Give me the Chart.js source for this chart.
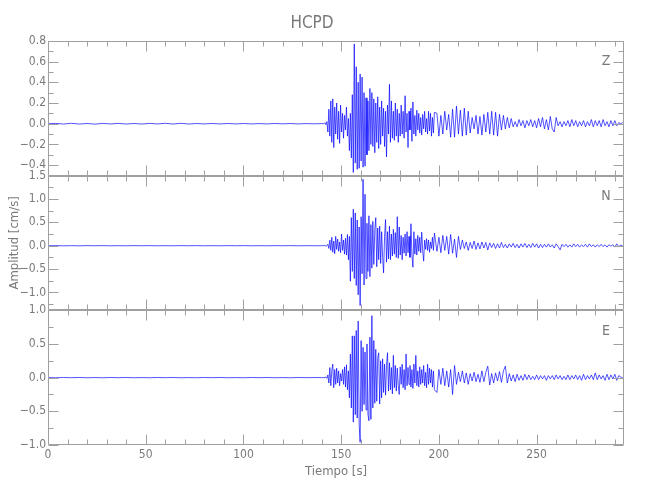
<!DOCTYPE html>
<html>
<head>
<meta charset="utf-8">
<script src="https://cdn.jsdelivr.net/npm/chart.js@4.4.1/dist/chart.umd.min.js"></script>
<style>
  html, body { margin: 0; padding: 0; background: #fff; }
  #sismo { display: block; }
</style>
</head>
<body>
<canvas id="sismo" width="650" height="500"></canvas>
<script>
// muestreo: tramo quieto, tramo fuerte y coda
const quietStep = 4;
const strongStart = 141.2;
const strongStep = 0.5;
const codaStart = 199;
const codaStep = 1;

const xTickLabels = [0, 50, 100, 150, 200, 250];
const components = ["Z", "N", "E"];

const zQuiet = [0.000, 0.003, -0.003, 0.004, -0.003, 0.002, -0.004, 0.003, -0.002, 0.003,
  -0.003, 0.002, -0.003, 0.003, -0.002, 0.004, -0.003, 0.004, -0.003, 0.002,
  -0.002, 0.002, -0.002, 0.002, -0.002, 0.002, -0.002, 0.001, -0.002, 0.002,
  -0.001, 0.002, -0.002, 0.001, -0.001, 0.001];
const zStrong = [0.00, 0.01, -0.01, 0.02, -0.08, 0.14, -0.12, 0.22, -0.18, 0.24,
  -0.23, 0.16, -0.10, 0.20, -0.15, 0.12, -0.19, 0.18, -0.08, 0.10,
  -0.14, 0.08, -0.06, 0.16, -0.12, 0.05, -0.26, 0.10, -0.33, 0.28,
  -0.47, 0.77, -0.38, 0.55, -0.44, 0.40, -0.43, 0.48, -0.36, 0.45,
  -0.42, 0.30, -0.41, 0.25, -0.30, 0.22, -0.26, 0.34, -0.20, 0.30,
  -0.22, 0.24, -0.28, 0.20, -0.18, 0.26, -0.24, 0.16, -0.20, 0.22,
  -0.12, 0.15, -0.22, 0.12, -0.32, 0.18, -0.10, 0.38, -0.18, 0.22,
  -0.14, 0.12, -0.16, 0.20, -0.12, 0.14, -0.18, 0.10, -0.12, 0.18,
  -0.10, 0.12, -0.14, 0.27, -0.08, 0.10, -0.23, 0.12, -0.06, 0.15,
  -0.17, 0.21, -0.10, 0.08, -0.12, 0.13, -0.06, 0.10, -0.09, 0.06,
  -0.11, 0.09, -0.05, 0.12, -0.08, 0.05, -0.10, 0.12, -0.07, 0.10,
  -0.12, 0.06, -0.09, 0.11];
const zCoda = [0.10, -0.12, 0.08, -0.10, 0.12, -0.06, 0.09, -0.13, 0.14, -0.13,
  0.17, -0.10, 0.13, -0.12, 0.15, -0.11, 0.12, -0.09, 0.06, -0.05,
  0.08, -0.10, 0.07, -0.11, 0.09, -0.08, 0.11, -0.10, 0.12, -0.11,
  0.11, -0.12, 0.09, -0.06, 0.08, -0.05, 0.06, -0.04, 0.05, -0.03,
  0.02, -0.03, 0.04, -0.02, 0.03, -0.04, 0.03, -0.02, 0.04, -0.03,
  0.03, -0.04, 0.05, -0.03, 0.06, -0.05, 0.04, -0.06, 0.07, -0.05,
  -0.08, 0.06, -0.02, 0.02, -0.03, 0.02, -0.02, 0.03, -0.03, 0.04,
  -0.02, 0.03, -0.03, 0.02, -0.02, 0.03, -0.03, 0.02, -0.02, 0.04,
  -0.03, 0.03, -0.02, 0.03, -0.03, 0.04, -0.02, 0.02, -0.03, 0.03,
  -0.02, 0.03, -0.02, 0.01, 0.00, 0.01];

const nQuiet = [0.000, 0.002, -0.002, 0.001, -0.002, 0.002, -0.001, 0.002, -0.002, 0.001,
  -0.002, 0.002, -0.001, 0.002, -0.002, 0.001, -0.002, 0.002, -0.001, 0.002,
  -0.002, 0.001, -0.002, 0.002, -0.001, 0.002, -0.002, 0.001, -0.002, 0.002,
  -0.001, 0.002, -0.002, 0.001, -0.001, 0.000];
const nStrong = [0.00, 0.01, -0.01, 0.00, 0.03, -0.06, 0.12, -0.10, 0.18, -0.14,
  0.10, -0.17, 0.20, -0.08, 0.14, -0.12, 0.08, -0.15, 0.25, -0.10,
  0.12, -0.18, 0.16, -0.20, 0.24, -0.30, 0.20, -0.76, 0.60, -0.55,
  0.78, -0.70, 0.70, -0.85, 0.55, -1.05, 0.40, -1.28, 0.62, -0.60,
  1.42, -0.84, 1.10, -0.70, 0.48, -0.55, 0.64, -0.66, 0.45, -0.48,
  0.52, -0.40, 0.35, 0.60, -0.45, 0.38, -0.30, 0.42, -0.38, 0.30,
  -0.25, -0.58, 0.20, 0.56, -0.35, 0.30, -0.28, 0.42, -0.30, 0.25,
  -0.22, 0.35, -0.18, 0.28, -0.25, 0.62, -0.27, 0.40, -0.20, 0.22,
  -0.30, 0.18, -0.16, 0.25, -0.22, 0.30, -0.15, 0.20, -0.25, 0.47,
  -0.20, -0.46, 0.30, -0.18, 0.15, -0.20, 0.22, -0.12, 0.18, -0.15,
  0.29, -0.10, -0.33, 0.12, -0.08, 0.15, -0.10, 0.12, -0.14, 0.08,
  -0.06, 0.18, -0.10, 0.27];
const nCoda = [-0.12, 0.18, -0.15, 0.22, -0.10, 0.20, -0.18, 0.24, -0.16, 0.14,
  -0.25, 0.20, -0.08, 0.12, -0.06, 0.08, -0.10, 0.07, -0.06, 0.10,
  -0.08, 0.06, -0.07, 0.08, -0.05, 0.07, -0.09, 0.06, -0.04, 0.05,
  -0.06, 0.04, -0.05, 0.07, -0.04, 0.03, -0.05, 0.04, -0.03, 0.05,
  -0.04, 0.03, -0.05, 0.04, -0.03, 0.05, -0.04, 0.03, -0.04, 0.05,
  -0.03, 0.04, -0.05, 0.03, -0.04, 0.03, -0.03, 0.04, -0.03, 0.02,
  -0.05, 0.04, -0.02, -0.09, 0.03, -0.02, 0.03, -0.03, 0.02, -0.03,
  0.04, -0.02, 0.03, -0.03, 0.02, -0.02, 0.03, -0.03, 0.04, -0.02,
  0.02, -0.03, 0.02, -0.02, 0.03, -0.02, 0.02, -0.03, 0.02, -0.01,
  0.02, -0.03, 0.04, -0.02, 0.01, 0.00];

const eQuiet = [0.000, -0.002, 0.002, -0.001, 0.002, -0.002, 0.001, -0.002, 0.002, -0.001,
  0.002, -0.002, 0.001, -0.002, 0.002, -0.001, 0.002, -0.002, 0.001, -0.002,
  0.002, -0.001, 0.002, -0.002, 0.001, -0.002, 0.002, -0.001, 0.002, -0.002,
  0.001, -0.002, 0.002, -0.001, 0.001, 0.000];
const eStrong = [0.00, 0.00, 0.01, -0.01, 0.04, -0.08, 0.15, -0.12, 0.10, 0.20,
  -0.15, 0.12, -0.10, 0.14, -0.08, 0.10, -0.12, 0.06, -0.05, 0.12,
  -0.10, 0.16, -0.14, 0.19, -0.18, 0.10, -0.30, 0.35, -0.45, 0.62,
  -0.66, 0.62, -0.55, 0.70, -0.60, 0.84, -0.70, -0.96, 0.55, -0.50,
  0.45, -0.40, 0.38, -0.48, 0.50, -0.55, -0.64, 0.60, -0.62, 0.92,
  -0.45, 0.55, -0.38, 0.42, -0.35, 0.30, 0.37, -0.39, 0.25, -0.30,
  0.28, -0.22, 0.20, -0.26, 0.18, 0.37, -0.20, 0.22, -0.18, 0.15,
  -0.24, 0.33, -0.15, 0.18, -0.20, 0.14, -0.12, -0.25, 0.16, -0.10,
  0.20, -0.15, 0.12, -0.18, 0.35, -0.12, 0.15, -0.10, 0.18, -0.14,
  0.12, -0.16, 0.20, -0.08, 0.33, -0.12, 0.10, -0.14, 0.16, -0.10,
  0.12, -0.08, 0.18, -0.12, 0.08, -0.15, 0.20, -0.10, 0.14, -0.08,
  0.12, -0.14, 0.10, -0.18];
const eCoda = [-0.22, 0.12, -0.10, 0.14, -0.12, 0.10, -0.14, 0.12, -0.25, 0.18,
  -0.10, 0.08, -0.06, 0.10, -0.08, 0.07, -0.10, 0.06, -0.05, 0.08,
  -0.06, 0.05, -0.07, 0.10, -0.06, 0.08, 0.17, -0.11, 0.06, -0.08,
  0.07, -0.05, 0.09, -0.07, 0.10, 0.17, -0.08, 0.06, -0.05, 0.04,
  -0.06, 0.05, -0.04, 0.03, -0.04, 0.05, -0.03, 0.04, -0.03, 0.02,
  -0.03, 0.04, -0.03, 0.03, -0.02, 0.03, -0.04, 0.03, -0.02, 0.03,
  -0.03, 0.04, -0.02, 0.03, -0.03, 0.02, -0.03, 0.04, -0.03, 0.03,
  -0.02, 0.04, -0.03, 0.03, -0.04, 0.05, -0.03, 0.03, -0.02, 0.04,
  -0.03, 0.07, -0.03, 0.04, -0.02, 0.03, -0.04, 0.05, -0.03, 0.04,
  -0.02, 0.05, -0.04, 0.03, 0.01, 0.00];

const fontFamily = "'Liberation Sans Narrow', 'DejaVu Sans Condensed', 'Liberation Sans', sans-serif";
const textColor = "#7a7a7a";
const frameColor = "#a0a0a0";
const traceColor = "rgba(0, 0, 255, 0.85)";

const buildTrace = (quiet, strong, coda) => {
    const pts = [];
    quiet.forEach((v, i) => pts.push({ x: i * quietStep, y: v }));
    strong.forEach((v, i) => pts.push({ x: strongStart + i * strongStep, y: v }));
    coda.forEach((v, i) => pts.push({ x: codaStart + i * codaStep, y: v }));
    return pts;
};

const fmt = (v) => {
    const s = Math.abs(v).toFixed(1);
    return v < -1e-9 ? "\u2212" + s : s;
};

// marcas hacia adentro en cada panel
const panelTicks = {
    yZ: { minor: 0.1, major: 0.2, label: components[0] },
    yN: { minor: 0.25, major: 0.5, label: components[1] },
    yE: { minor: 0.25, major: 0.5, label: components[2] }
};

const framePlugin = {
    id: "frames",
    afterDatasetsDraw(chart) {
        const ctx = chart.ctx;
        const area = chart.chartArea;
        const xs = chart.scales.x;
        const left = Math.round(area.left) + 0.5;
        const right = Math.round(area.right) - 0.5;
        ctx.save();
        ctx.strokeStyle = frameColor;
        ctx.lineWidth = 1;
        Object.keys(panelTicks).forEach((id) => {
            const s = chart.scales[id];
            const conf = panelTicks[id];
            const top = Math.round(s.top) + 0.5;
            const bottom = Math.round(s.bottom) - 0.5;
            ctx.beginPath();
            ctx.rect(left, top, right - left, bottom - top);
            for (let t = 0; t <= xs.max; t += 10) {
                const px = Math.round(xs.getPixelForValue(t)) + 0.5;
                const len = t % 50 === 0 ? 10 : 5;
                ctx.moveTo(px, top);
                ctx.lineTo(px, top + len);
                ctx.moveTo(px, bottom);
                ctx.lineTo(px, bottom - len);
            }
            const start = Math.ceil(s.min / conf.minor - 1e-6);
            for (let k = start; k * conf.minor <= s.max + 1e-6; k++) {
                const v = k * conf.minor;
                const py = Math.round(s.getPixelForValue(v)) + 0.5;
                const r = v / conf.major;
                const len = Math.abs(r - Math.round(r)) < 1e-6 ? 10 : 5;
                ctx.moveTo(left, py);
                ctx.lineTo(left + len, py);
                ctx.moveTo(right, py);
                ctx.lineTo(right - len, py);
            }
            ctx.stroke();
            ctx.fillStyle = textColor;
            ctx.font = "14px " + fontFamily;
            ctx.textAlign = "center";
            ctx.textBaseline = "middle";
            ctx.fillText(conf.label, 606, s.top + 21);
        });
        ctx.restore();
    }
};

const yScale = (min, max, step, weight, extra) => Object.assign({
    type: "linear",
    position: "left",
    stack: "panels",
    stackWeight: 1,
    weight: weight,
    min: min,
    max: max,
    grid: { display: false, drawTicks: false },
    border: { display: false },
    ticks: {
        stepSize: step,
        includeBounds: false,
        autoSkip: false,
        padding: 2,
        color: textColor,
        font: { family: fontFamily, size: 12 },
        callback: (v) => fmt(v)
    },
    afterFit: (s) => { s.width = 48; }
}, extra);

const datasetStyle = {
    borderColor: traceColor,
    borderWidth: 0.8,
    pointRadius: 0,
    tension: 0,
    fill: false
};

new Chart(document.getElementById("sismo"), {
    type: "line",
    data: {
        datasets: [
            Object.assign({ label: "Z", data: buildTrace(zQuiet, zStrong, zCoda), yAxisID: "yZ" }, datasetStyle),
            Object.assign({ label: "N", data: buildTrace(nQuiet, nStrong, nCoda), yAxisID: "yN" }, datasetStyle),
            Object.assign({ label: "E", data: buildTrace(eQuiet, eStrong, eCoda), yAxisID: "yE" }, datasetStyle)
        ]
    },
    options: {
        responsive: false,
        animation: false,
        layout: { padding: { top: 0, right: 26, bottom: 0, left: 0 } },
        plugins: {
            legend: { display: false },
            tooltip: { enabled: false },
            title: {
                display: true,
                text: "HCPD",
                color: textColor,
                font: { family: fontFamily, size: 17, weight: "normal" },
                padding: { top: 13, bottom: 7.4 }
            }
        },
        scales: {
            x: {
                type: "linear",
                min: 0,
                max: 294.7,
                grid: { display: false, drawTicks: false },
                border: { display: false },
                afterBuildTicks: (s) => { s.ticks = xTickLabels.map((v) => ({ value: v })); },
                ticks: {
                    autoSkip: false,
                    maxRotation: 0,
                    padding: 3,
                    color: textColor,
                    font: { family: fontFamily, size: 12 },
                    callback: (v) => String(v)
                },
                title: {
                    display: true,
                    text: "Tiempo [s]",
                    color: textColor,
                    font: { family: fontFamily, size: 13 },
                    padding: { top: 0, bottom: 21 }
                },
                afterFit: (s) => { s.height = 55; }
            },
            yE: yScale(-1, 1, 0.5, 1),
            yN: yScale(-1.38, 1.5, 0.5, 2, {
                title: {
                    display: true,
                    text: "Amplitud [cm/s]",
                    color: textColor,
                    font: { family: fontFamily, size: 13 },
                    padding: { top: 7, bottom: 0 }
                }
            }),
            yZ: yScale(-0.5, 0.8, 0.2, 3)
        }
    },
    plugins: [framePlugin]
});
</script>
</body>
</html>
